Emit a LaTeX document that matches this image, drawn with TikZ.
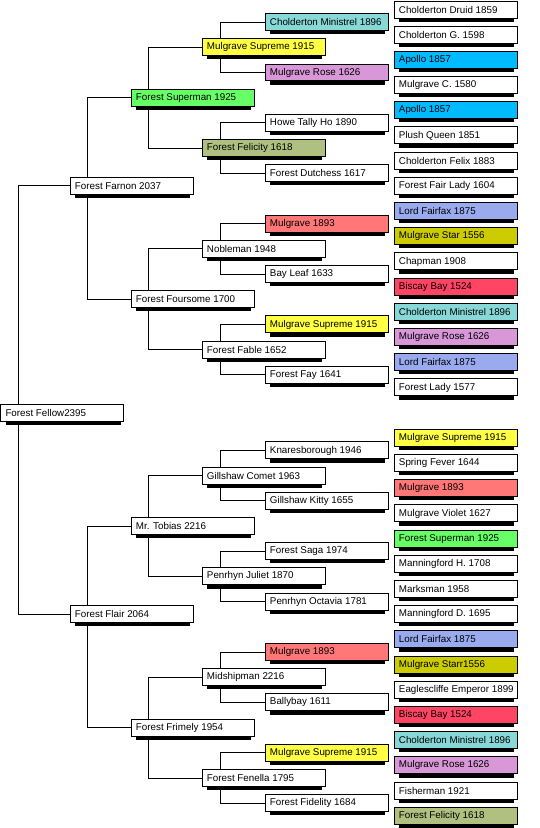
\documentclass[tikz,border=0pt]{standalone}
\usepackage{fontspec}
\setmainfont{Liberation Sans}
\usepackage{tikz}
\usetikzlibrary{shadows}

\definecolor{ministrel}{RGB}{136,216,216}
\definecolor{supreme}{RGB}{255,255,68}
\definecolor{rose}{RGB}{216,152,216}
\definecolor{apollo}{RGB}{0,187,255}
\definecolor{superman}{RGB}{102,255,102}
\definecolor{felicity}{RGB}{176,192,128}
\definecolor{mulgrave}{RGB}{255,119,119}
\definecolor{fairfax}{RGB}{153,170,238}
\definecolor{star}{RGB}{204,204,0}
\definecolor{biscay}{RGB}{255,68,100}

\begin{document}
\begin{tikzpicture}[x=1pt, y=-25.2pt,
  horse/.style={draw=black, line width=1pt, fill=#1, rectangle, anchor=north west,
    minimum height=17pt, inner xsep=4.5pt, inner ysep=0pt,
    font=\fontsize{9.8}{11}\selectfont,
    execute at begin node={\hbox to 114pt\bgroup}, execute at end node={\hss\egroup},
    drop shadow={shadow xshift=1pt, shadow yshift=-4.5pt, shadow scale=0.935, fill=black, opacity=1}},
  horse/.default=white,
  link/.style={line width=1pt},
]
  \useasboundingbox (0,-0.02) rectangle (540,32.84);

  % Generation 0
  \node[horse] (fellow) at (0.5,16) {Forest Fellow2395};

  % Generation 1
  \node[horse] (farnon) at (70,7) {Forest Farnon 2037};
  \node[horse] (flair) at (70,24) {Forest Flair 2064};

  % Generation 2
  \node[horse=superman] (super) at (131,3.5) {Forest Superman 1925};
  \node[horse] (fours) at (131,11.5) {Forest Foursome 1700};
  \node[horse] (tobias) at (131,20.5) {Mr. Tobias 2216};
  \node[horse] (frimely) at (131,28.5) {Forest Frimely 1954};

  % Generation 3
  \node[horse=supreme] (msupA) at (202,1.5) {Mulgrave Supreme 1915};
  \node[horse=felicity] (felicA) at (202,5.5) {Forest Felicity 1618};
  \node[horse] (noble) at (202,9.5) {Nobleman 1948};
  \node[horse] (fable) at (202,13.5) {Forest Fable 1652};
  \node[horse] (comet) at (202,18.5) {Gillshaw Comet 1963};
  \node[horse] (juliet) at (202,22.5) {Penrhyn Juliet 1870};
  \node[horse] (midship) at (202,26.5) {Midshipman 2216};
  \node[horse] (fenella) at (202,30.5) {Forest Fenella 1795};

  % Generation 4
  \node[horse=ministrel] (minA) at (265,0.5) {Cholderton Ministrel 1896};
  \node[horse=rose] (roseA) at (265,2.5) {Mulgrave Rose 1626};
  \node[horse] (howe) at (265,4.5) {Howe Tally Ho 1890};
  \node[horse] (dutch) at (265,6.5) {Forest Dutchess 1617};
  \node[horse=mulgrave] (mulA) at (265,8.5) {Mulgrave 1893};
  \node[horse] (bayleaf) at (265,10.5) {Bay Leaf 1633};
  \node[horse=supreme] (msupB) at (265,12.5) {Mulgrave Supreme 1915};
  \node[horse] (fay) at (265,14.5) {Forest Fay 1641};
  \node[horse] (knare) at (265,17.5) {Knaresborough 1946};
  \node[horse] (kitty) at (265,19.5) {Gillshaw Kitty 1655};
  \node[horse] (saga) at (265,21.5) {Forest Saga 1974};
  \node[horse] (octavia) at (265,23.5) {Penrhyn Octavia 1781};
  \node[horse=mulgrave] (mulB) at (265,25.5) {Mulgrave 1893};
  \node[horse] (ballybay) at (265,27.5) {Ballybay 1611};
  \node[horse=supreme] (msupC) at (265,29.5) {Mulgrave Supreme 1915};
  \node[horse] (fidelity) at (265,31.5) {Forest Fidelity 1684};

  % Generation 5
  \node[horse] (druid) at (394,0) {Cholderton Druid 1859};
  \node[horse] (cholG) at (394,1) {Cholderton G. 1598};
  \node[horse=apollo] (apolloA) at (394,2) {Apollo 1857};
  \node[horse] (mulC) at (394,3) {Mulgrave C. 1580};
  \node[horse=apollo] (apolloB) at (394,4) {Apollo 1857};
  \node[horse] (plush) at (394,5) {Plush Queen 1851};
  \node[horse] (felix) at (394,6) {Cholderton Felix 1883};
  \node[horse] (fairlady) at (394,7) {Forest Fair Lady 1604};
  \node[horse=fairfax] (fairfaxA) at (394,8) {Lord Fairfax 1875};
  \node[horse=star] (starA) at (394,9) {Mulgrave Star 1556};
  \node[horse] (chapman) at (394,10) {Chapman 1908};
  \node[horse=biscay] (biscayA) at (394,11) {Biscay Bay 1524};
  \node[horse=ministrel] (minB) at (394,12) {Cholderton Ministrel 1896};
  \node[horse=rose] (roseB) at (394,13) {Mulgrave Rose 1626};
  \node[horse=fairfax] (fairfaxB) at (394,14) {Lord Fairfax 1875};
  \node[horse] (lady) at (394,15) {Forest Lady 1577};
  \node[horse=supreme] (msupD) at (394,17) {Mulgrave Supreme 1915};
  \node[horse] (spring) at (394,18) {Spring Fever 1644};
  \node[horse=mulgrave] (mulD) at (394,19) {Mulgrave 1893};
  \node[horse] (violet) at (394,20) {Mulgrave Violet 1627};
  \node[horse=superman] (superB) at (394,21) {Forest Superman 1925};
  \node[horse] (mannH) at (394,22) {Manningford H. 1708};
  \node[horse] (marksman) at (394,23) {Marksman 1958};
  \node[horse] (mannD) at (394,24) {Manningford D. 1695};
  \node[horse=fairfax] (fairfaxC) at (394,25) {Lord Fairfax 1875};
  \node[horse=star] (starB) at (394,26) {Mulgrave Starr1556};
  \node[horse] (eagle) at (394,27) {Eaglescliffe Emperor 1899};
  \node[horse=biscay] (biscayB) at (394,28) {Biscay Bay 1524};
  \node[horse=ministrel] (minC) at (394,29) {Cholderton Ministrel 1896};
  \node[horse=rose] (roseC) at (394,30) {Mulgrave Rose 1626};
  \node[horse] (fisher) at (394,31) {Fisherman 1921};
  \node[horse=felicity] (felicB) at (394,32) {Forest Felicity 1618};

  % Sire and dam lines
  \draw[link] ([xshift=18pt]fellow.north west) |- (farnon.west);
  \draw[link] ([xshift=18pt]fellow.south west) |- (flair.west);
  \draw[link] ([xshift=18pt]farnon.north west) |- (super.west);
  \draw[link] ([xshift=18pt]farnon.south west) |- (fours.west);
  \draw[link] ([xshift=18pt]flair.north west) |- (tobias.west);
  \draw[link] ([xshift=18pt]flair.south west) |- (frimely.west);
  \draw[link] ([xshift=18pt]super.north west) |- (msupA.west);
  \draw[link] ([xshift=18pt]super.south west) |- (felicA.west);
  \draw[link] ([xshift=18pt]fours.north west) |- (noble.west);
  \draw[link] ([xshift=18pt]fours.south west) |- (fable.west);
  \draw[link] ([xshift=18pt]tobias.north west) |- (comet.west);
  \draw[link] ([xshift=18pt]tobias.south west) |- (juliet.west);
  \draw[link] ([xshift=18pt]frimely.north west) |- (midship.west);
  \draw[link] ([xshift=18pt]frimely.south west) |- (fenella.west);
  \draw[link] ([xshift=19pt]msupA.north west) |- (minA.west);
  \draw[link] ([xshift=19pt]msupA.south west) |- (roseA.west);
  \draw[link] ([xshift=19pt]felicA.north west) |- (howe.west);
  \draw[link] ([xshift=19pt]felicA.south west) |- (dutch.west);
  \draw[link] ([xshift=19pt]noble.north west) |- (mulA.west);
  \draw[link] ([xshift=19pt]noble.south west) |- (bayleaf.west);
  \draw[link] ([xshift=19pt]fable.north west) |- (msupB.west);
  \draw[link] ([xshift=19pt]fable.south west) |- (fay.west);
  \draw[link] ([xshift=19pt]comet.north west) |- (knare.west);
  \draw[link] ([xshift=19pt]comet.south west) |- (kitty.west);
  \draw[link] ([xshift=19pt]juliet.north west) |- (saga.west);
  \draw[link] ([xshift=19pt]juliet.south west) |- (octavia.west);
  \draw[link] ([xshift=19pt]midship.north west) |- (mulB.west);
  \draw[link] ([xshift=19pt]midship.south west) |- (ballybay.west);
  \draw[link] ([xshift=19pt]fenella.north west) |- (msupC.west);
  \draw[link] ([xshift=19pt]fenella.south west) |- (fidelity.west);
\end{tikzpicture}
\end{document}
